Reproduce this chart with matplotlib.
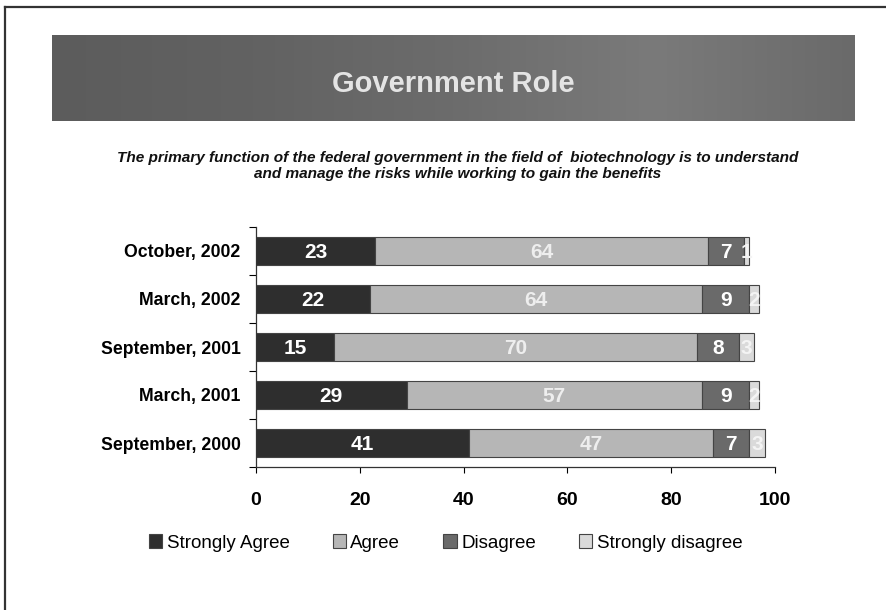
import numpy as np
import matplotlib.pyplot as plt
from matplotlib.patches import Rectangle
from matplotlib.lines import Line2D
from matplotlib.colors import LinearSegmentedColormap

plt.rcParams['font.family'] = ['Liberation Sans', 'DejaVu Sans']

# ---------------------------------------------------------
# Survey data (percent), bottom row first
# ---------------------------------------------------------

waves = ["September, 2000", "March, 2001", "September, 2001",
         "March, 2002", "October, 2002"]

strongly_agree = [41, 29, 15, 22, 23]
agree = [47, 57, 70, 64, 64]
disagree = [7, 9, 8, 9, 7]
strongly_disagree = [3, 2, 3, 2, 1]

series_names = ["Strongly Agree", "Agree", "Disagree", "Strongly disagree"]
series_colors = ["#2e2e2e", "#b6b6b6", "#6a6a6a", "#dadada"]
label_colors = ["white", "#eeeeee", "white", "#f4f4f4"]

x_ticks = [0, 20, 40, 60, 80, 100]

title = "Government Role"
question = ("The primary function of the federal government in the field of  biotechnology is to understand\n"
            "and manage the risks while working to gain the benefits")

# ---------------------------------------------------------
# Figure
# ---------------------------------------------------------

fig = plt.figure(figsize=(8.86, 6.10), dpi=100)
fig.patch.set_facecolor("white")

# page frame (top and left edges)
fig.add_artist(Line2D([5/886, 1.0], [1-7/610, 1-7/610], color="#333333", lw=1.6))
fig.add_artist(Line2D([5/886, 5/886], [0, 1-7/610], color="#333333", lw=1.6))

# title banner, dark grey shading a little lighter towards the right
banner = fig.add_axes([52/886, 1-121/610, (855-52)/886, 86/610])
banner_cmap = LinearSegmentedColormap.from_list(
    "banner", ["#5c5c5c", "#626262", "#6c6c6c", "#7a7a7a", "#6a6a6a"])
shade = np.linspace(0, 1, 256)[None, :]
shade = np.vstack([shade] * 8)
banner.imshow(shade, cmap=banner_cmap, aspect="auto", extent=[0, 1, 0, 1])
banner.set_xlim(0, 1)
banner.set_ylim(0, 1)
banner.axis("off")
banner.text(0.5, 0.43, title, ha="center", va="center", color="#e4e4e4",
            fontsize=21, fontweight="bold")

fig.text(0.517, 1-166/610, question, ha="center", va="center",
         fontsize=11.1, fontweight="bold", fontstyle="italic",
         linespacing=1.2, color="#111111")

# ---------------------------------------------------------
# Stacked bars
# ---------------------------------------------------------

ax = fig.add_axes([256/886, 1-467/610, (775-256)/886, (467-227)/610])

y = np.arange(len(waves))
series = [strongly_agree, agree, disagree, strongly_disagree]
left = np.zeros(len(waves))

for vals, name, col, tcol in zip(series, series_names, series_colors, label_colors):
    vals = np.array(vals, dtype=float)
    ax.barh(y, vals, left=left, height=0.58, color=col,
            edgecolor="#444444", linewidth=0.8, label=name)
    for yi, (l, v) in enumerate(zip(left, vals)):
        ax.text(l + v / 2, yi, f"{int(v)}", ha="center", va="center_baseline",
                color=tcol, fontsize=15, fontweight="bold")
    left += vals

ax.set_xlim(0, 100)
ax.set_ylim(-0.5, len(waves) - 0.5)

ax.set_xticks(x_ticks)
ax.set_xticklabels([str(t) for t in x_ticks], fontsize=14, fontweight="bold")
ax.tick_params(axis="x", direction="out", length=4, width=0.8, pad=14)

# ticks between categories, labels at the category centres
ax.set_yticks(np.arange(-0.5, len(waves), 1.0))
ax.set_yticklabels([])
ax.set_yticks(y, minor=True)
ax.set_yticklabels(waves, minor=True, fontsize=12.7, fontweight="bold")
ax.tick_params(axis="y", which="major", direction="out", length=5, width=0.8)
ax.tick_params(axis="y", which="minor", length=0, pad=11)

for side in ["top", "right"]:
    ax.spines[side].set_visible(False)
for side in ["left", "bottom"]:
    ax.spines[side].set_color("#333333")
    ax.spines[side].set_linewidth(0.9)

# ---------------------------------------------------------
# Legend
# ---------------------------------------------------------

handles = [Rectangle((0, 0), 1, 1, facecolor=c, edgecolor="#444444", linewidth=0.8)
           for c in series_colors]
fig.legend(handles, series_names, loc="center", bbox_to_anchor=(0.503, 1-543/610),
           ncol=4, frameon=False, fontsize=13.5, handlelength=0.7, handleheight=0.7,
           handletextpad=0.25, columnspacing=2.3)

fig.savefig("out.png", dpi=100)
